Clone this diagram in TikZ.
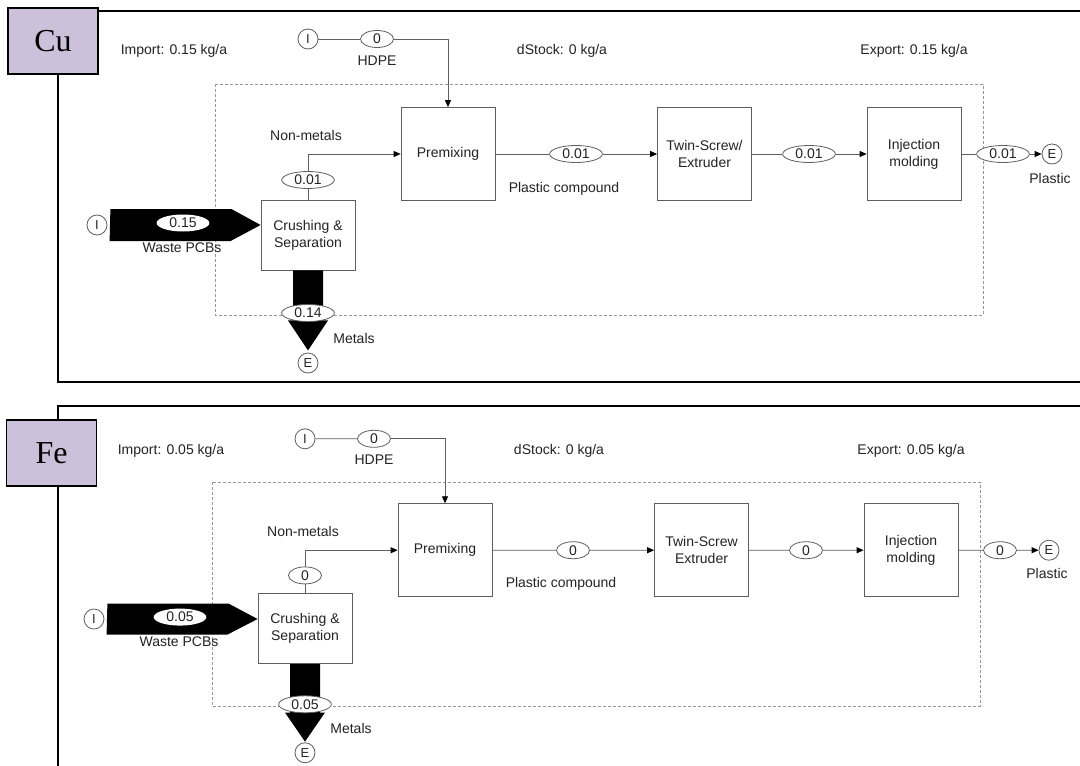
\documentclass[tikz,border=0pt]{standalone}
\usepackage{fontspec}
\setmainfont{Liberation Sans}
\newfontfamily\serifcu{Liberation Serif}
\usetikzlibrary{arrows.meta,shapes.geometric}
\definecolor{lav}{RGB}{204,192,218}
\definecolor{txt}{RGB}{35,35,35}
\definecolor{ln}{RGB}{95,95,95}
\definecolor{bnd}{RGB}{150,150,150}
\tikzset{
 lbl/.style={font=\fontsize{14}{17}\selectfont, text=txt, inner sep=0pt},
 procbox/.style={draw=ln, line width=0.8pt, minimum width=94pt, minimum height=93pt, align=center, font=\fontsize{14}{17}\selectfont, text=txt, inner sep=2pt},
 flowval/.style={ellipse, draw=ln, line width=0.8pt, fill=white, minimum height=17pt, minimum width=33pt, inner xsep=5pt, inner ysep=0pt, font=\fontsize{14}{16}\selectfont, text=txt},
 endpt/.style={circle, draw=ln, line width=0.8pt, fill=white, minimum size=20pt, inner sep=0pt, font=\fontsize{13}{15}\selectfont, text=txt},
 flowln/.style={draw=ln, line width=0.8pt},
 flowarr/.style={flowln, -{Triangle[length=7pt,width=6pt,color=black]}},
 bigflow/.style={fill=black},
 sysbound/.style={draw=bnd, line width=0.8pt, dash pattern=on 3pt off 2pt},
 frameln/.style={draw=black, line width=2pt},
 elembox/.style={draw=black, line width=1.2pt, fill=lav, minimum width=90pt, minimum height=66pt, font=\serifcu\fontsize{32}{36}\selectfont, inner sep=0pt}
}
\newcommand\mfapanel[9]{%
 \draw[sysbound] (215,84) rectangle (983,315);
 \node[lbl] (#1imp) at (174,51) {Import: #2 kg/a};
 \node[lbl] (#1dst) at (562,51) {dStock: 0 kg/a};
 \node[lbl] (#1exp) at (914,51) {Export: #3 kg/a};
 \node[endpt] (#1it) at (308,39) {I};
 \node[flowval] (#1hdpe) at (377,39) {#4};
 \node[lbl] (#1hdpel) at (377,61) {HDPE};
 \node[procbox] (#1premix) at (448,154) {Premixing};
 \node[procbox] (#1twin) at (704.5,154) {#9\\Extruder};
 \node[procbox] (#1inj) at (914,154) {Injection\\molding};
 \node[procbox, minimum height=70pt] (#1crush) at (308,235) {Crushing \&\\Separation};
 \node[lbl] (#1nml) at (306,135) {Non-metals};
 \node[flowval] (#1nm) at (308,180) {#5};
 \node[flowval] (#1fa) at (576,154) {#8};
 \node[lbl] (#1pcl) at (564,189) {Plastic compound};
 \node[flowval] (#1fb) at (809,154) {#8};
 \node[flowval] (#1fc) at (1003,154) {#8};
 \node[endpt] (#1eo) at (1052,154) {E};
 \node[lbl] (#1pl) at (1050,178) {Plastic};
 \node[endpt] (#1iw) at (97,225) {I};
 \node[lbl] (#1wl) at (182,248) {Waste PCBs};
 \node[endpt] (#1em) at (308,363) {E};
 \node[lbl] (#1ml) at (354,338) {Metals};
 \draw[flowln] (#1it) -- (#1hdpe);
 \draw[flowarr] (#1hdpe) -| (#1premix.north);
 \draw[flowln] (#1crush) -- (#1nm);
 \draw[flowarr] (#1nm) |- (#1premix.west);
 \draw[flowln] (#1premix) -- (#1fa);
 \draw[flowarr] (#1fa) -- (#1twin);
 \draw[flowln] (#1twin) -- (#1fb);
 \draw[flowarr] (#1fb) -- (#1inj);
 \draw[flowln] (#1inj) -- (#1fc);
 \draw[flowarr] (#1fc) -- (#1eo);
 \fill[bigflow] (#1iw.east) ++(3,-16) -- ++(121,0) -- (#1crush.west |- #1iw) -- ++(-30,16) -- ++(-121,0) -- cycle;
 \fill[bigflow] (#1crush.south) ++(-15,0) -- ++(0,50) -- ++(-5,0) -- ++(20,30) -- ++(20,-30) -- ++(-5,0) -- ++(0,-50) -- cycle;
 \node[flowval, draw=none] (#1wst) at (183,223) {#6};
 \node[flowval] (#1mt) at (308,313) {#7};
}
\begin{document}
\begin{tikzpicture}[x=1pt,y=-1pt]
\useasboundingbox (0,0) rectangle (1080,766);
\fill[white] (0,0) rectangle (1080,766);
% top panel (Cu)
\draw[frameln] (1080,11) -- (58,11) -- (58,382) -- (1080,382);
\node[elembox] (cu) at (53,41) {Cu};
\mfapanel{t}{0.15}{0.15}{0}{0.01}{0.15}{0.14}{0.01}{Twin-Screw/}
% bottom panel (Fe)
\draw[frameln] (1080,406) -- (58,406) -- (58,766);
\node[elembox] (fe) at (51.5,453) {Fe};
\begin{scope}[shift={(-3,401)}, yscale=0.969]
\mfapanel{b}{0.05}{0.05}{0}{0}{0.05}{0.05}{0}{Twin-Screw}
\end{scope}
\end{tikzpicture}
\end{document}
